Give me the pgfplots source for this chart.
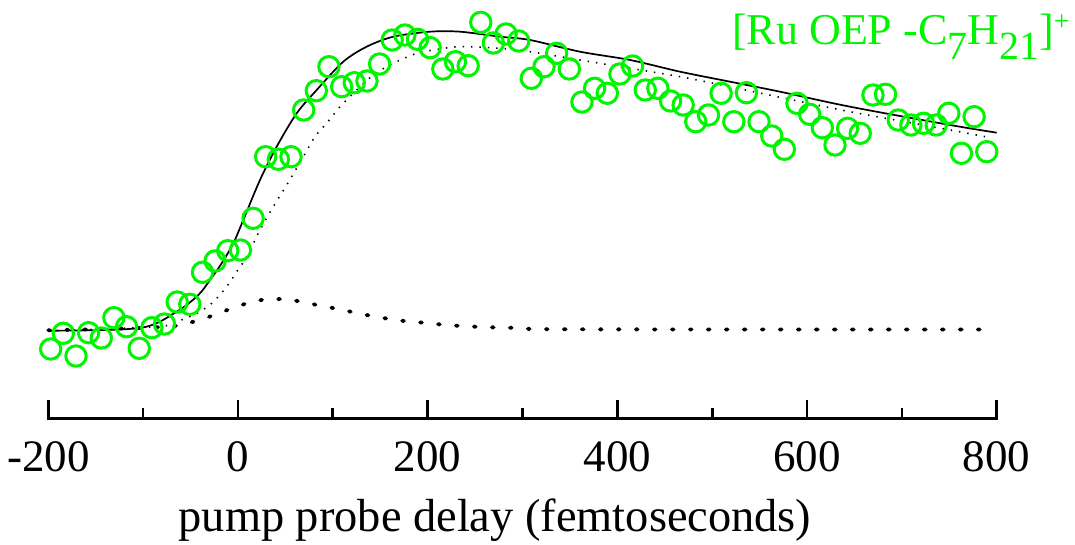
\documentclass[border=0pt]{standalone}
\usepackage{fontspec}
\setmainfont{Liberation Serif}
\usepackage{pgfplots}
\pgfplotsset{compat=1.18}
\definecolor{ionGreen}{RGB}{0,245,0}

% measured ion signal (arbitrary units) against pump-probe delay
\pgfplotstableread{
t y
-197.5 69.3
-184.2 85.0
-170.8 62.3
-157.5 85.6
-144.1 80.3
-130.8 100.6
-117.5 91.6
-104.1 70.0
-90.8 90.6
-77.5 94.3
-64.1 116.3
-50.8 114.0
-37.4 146.0
-24.1 157.3
-10.8 167.6
2.6 168.3
15.9 200.0
29.2 261.6
42.6 259.0
55.9 261.6
69.3 308.3
82.6 327.6
95.9 351.6
109.3 331.6
122.6 335.6
136.0 337.3
149.3 354.3
162.6 378.3
176.0 383.3
189.3 379.0
202.6 370.6
216.0 349.3
229.3 356.6
242.7 352.6
256.0 396.0
269.3 375.3
282.7 384.3
296.0 377.3
309.3 340.0
322.7 351.6
336.0 365.0
349.4 349.3
362.7 316.3
376.0 330.0
389.4 325.0
402.7 344.3
416.1 352.3
429.4 328.3
442.7 330.0
456.1 317.3
469.4 313.3
482.7 296.6
496.1 303.3
509.4 325.0
522.8 296.6
536.1 325.6
549.4 296.6
562.8 282.3
576.1 269.0
589.4 315.0
602.8 304.0
616.1 290.6
629.5 273.3
642.8 290.0
656.1 285.0
669.5 323.3
682.8 324.0
696.2 298.3
709.5 293.3
722.8 295.0
736.2 293.3
749.5 305.0
762.8 265.0
776.2 301.6
789.5 266.6
}\ionsignal

\begin{document}
\fontsize{22}{26}\selectfont
\begin{tikzpicture}
\useasboundingbox (0,0) rectangle (537.5pt,272.5pt);
\begin{axis}[
  at={(24.15pt,63.35pt)}, anchor=south west,
  scale only axis, width=474.2pt, height=209.15pt,
  xmin=-200, xmax=800, ymin=0, ymax=418.3,
  axis x line*=bottom, axis y line=none,
  x axis line style={line width=1.35pt, line cap=rect},
  xtick={-200,0,200,400,600,800},
  xticklabels={-200,0,200,400,600,800},
  minor xtick={-100,100,300,500,700},
  tick align=inside,
  major tick length=9.2pt, minor tick length=5pt,
  every tick/.style={black, line width=1.35pt},
  xticklabel style={font=\fontsize{22.5}{26}\selectfont, inner sep=0pt, anchor=north, yshift=-11.2pt},
  clip=false,
]
\addplot[only marks, mark=o, mark size=5.1pt, draw=ionGreen,
  mark options={line width=1.5pt, draw=ionGreen}] table[x=t, y=y] {\ionsignal};

% total fit
\addplot[black, line width=0.85pt, smooth] coordinates {
(-200,87.6) (-103.3,90.3) (-64.6,106.6) (-41.8,123.3) (-29.5,138.3)
(-17.2,155) (-4.9,175) (5.6,198.3) (23.2,238.3) (40.8,271.6)
(61.9,305) (83,328.3) (111,356.6) (135.7,371.6) (163.8,381.6)
(202.5,386.6) (234.1,386.6) (276.3,381.6) (307.9,378.3) (360.6,366.6)
(413.4,358.3) (466.1,346.6) (518.8,336.6) (571.5,326.6) (645.3,311.6)
(750.8,293.3) (800,285.6)};

% delayed component
\addplot[black, line width=0.8pt, dash pattern=on 0.7pt off 3.5pt, smooth] coordinates {
(-200,87.6) (-85.7,91.6) (-64.6,96.6) (-43.5,105) (-27.7,115)
(-11.9,131.6) (-1.4,146.6) (9.2,161.6) (23.2,188.3) (37.2,211.6)
(51.4,233.3) (68.9,261.6) (81.2,281.6) (93.5,295) (107.6,311.6)
(121.6,325) (142.7,343.3) (163.8,355) (188.4,365) (206,368.3)
(234.1,371.6) (276.3,370) (307.9,366.6) (360.6,358.3) (413.4,350)
(466.1,341.6) (518.8,331.6) (571.5,321) (645.3,306.6) (750.8,288.3)
(795,280.3)};

% prompt component
\addplot[black, line width=1.9pt, line cap=round, dash pattern=on 0.9pt off 8.1pt, smooth] coordinates {
(-200,88) (-103.3,90.3) (-64.6,92.6) (-47.1,96.6) (-27.7,102.3)
(-8.4,109.3) (9.8,115) (29.2,119) (47.8,119) (67.2,116.6)
(86.5,112.6) (105.9,109.3) (124.9,105.3) (143.9,101.8) (162.1,99)
(181.4,96.6) (200.4,95.3) (219.3,93.3) (257.3,91.3) (295.3,90.3)
(352.2,89) (797,88.8)};
\end{axis}
\node[anchor=base, inner sep=0pt, font=\fontsize{23.2}{27}\selectfont] at (247.5pt,6.65pt) {pump probe delay (femtoseconds)};
\node[anchor=base east, inner sep=0pt, text=ionGreen] at (535pt,250pt)
  {[Ru OEP -C\raisebox{-7.5pt}{\fontsize{20}{24}\selectfont 7}H\raisebox{-7.5pt}{\fontsize{20}{24}\selectfont 21}]\raisebox{7pt}{\fontsize{14}{16}\selectfont +}};
\end{tikzpicture}
\end{document}
